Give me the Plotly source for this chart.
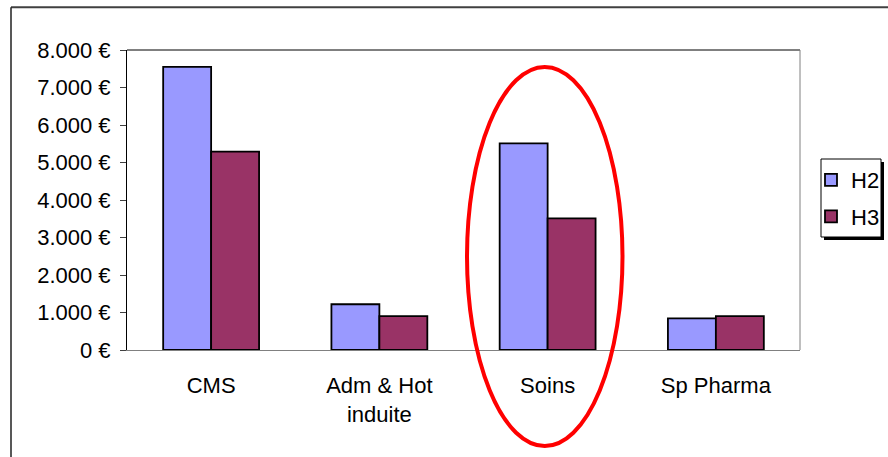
import plotly.graph_objects as go

categories = ["CMS", "Adm & Hot<br>induite", "Soins", "Sp Pharma"]
series_names = ["H2", "H3"]
h2_values = [7550, 1220, 5510, 845]
h3_values = [5290, 905, 3510, 905]
tick_vals = [0, 1000, 2000, 3000, 4000, 5000, 6000, 7000, 8000]
tick_text = ["0 €", "1.000 €", "2.000 €", "3.000 €", "4.000 €",
             "5.000 €", "6.000 €", "7.000 €", "8.000 €"]

W, H = 888, 457
L, T, R, B = 127, 50, 800, 350
PW, PH = R - L, B - T


def px(x):
    return (x - L) / PW


def py(y):
    return (B - y) / PH


FONT = "Liberation Sans, Arial, sans-serif"

fig = go.Figure()
fig.add_bar(name=series_names[0], x=categories, y=h2_values, legendgroup="g1",
            marker=dict(color="#9999FF", line=dict(color="black", width=1.8)))
fig.add_bar(name=series_names[1], x=categories, y=h3_values, legendgroup="g2",
            marker=dict(color="#993366", line=dict(color="black", width=1.8)))

shapes = [
    # outer chart frame (left and top edges visible)
    dict(type="line", xref="paper", yref="paper", x0=px(11), x1=px(895), y0=py(7.3), y1=py(7.3),
         line=dict(color="#404040", width=2), layer="above"),
    dict(type="line", xref="paper", yref="paper", x0=px(11), x1=px(11), y0=py(7.3), y1=py(470),
         line=dict(color="#202020", width=1.5), layer="above"),
    # plot area top and right borders
    dict(type="line", xref="paper", yref="paper", x0=0, x1=1, y0=1, y1=1,
         line=dict(color="black", width=1), layer="above"),
    dict(type="line", xref="paper", yref="paper", x0=1, x1=1, y0=0, y1=1,
         line=dict(color="#808080", width=1), layer="above"),
    # legend shadow and box
    dict(type="rect", xref="paper", yref="paper", x0=px(824), x1=px(884), y0=py(240), y1=py(162),
         fillcolor="black", line=dict(width=0), layer="above"),
    dict(type="rect", xref="paper", yref="paper", x0=px(821), x1=px(881), y0=py(237), y1=py(159),
         fillcolor="white", line=dict(color="black", width=1), layer="above"),
    # red ellipse highlighting "Soins"
    dict(type="circle", xref="paper", yref="paper", x0=px(467), x1=px(622.5), y0=py(446), y1=py(67),
         line=dict(color="#FF0000", width=4), layer="above"),
]

fig.update_layout(
    width=W, height=H,
    margin=dict(l=L, r=W - R, t=T, b=H - B, pad=0, autoexpand=False),
    paper_bgcolor="white", plot_bgcolor="white",
    font=dict(family=FONT, size=22, color="black"),
    barmode="group", bargap=0.43, bargroupgap=0,
    showlegend=True,
    legend=dict(x=px(811), xanchor="left", y=py(159), yanchor="top",
                bgcolor="rgba(0,0,0,0)", borderwidth=0,
                font=dict(family=FONT, size=22, color="black"),
                traceorder="grouped", tracegroupgap=5),
    xaxis=dict(showgrid=False, showline=True, linecolor="#808080", linewidth=1,
               ticks="", ticklabelstandoff=16,
               tickfont=dict(family=FONT, size=22, color="black"),
               fixedrange=True),
    yaxis=dict(range=[0, 8000], tickvals=tick_vals, ticktext=tick_text,
               showgrid=False, zeroline=False, showline=True, linecolor="black", linewidth=1,
               ticks="outside", ticklen=6, tickcolor="#404040", tickwidth=1,
               ticklabelstandoff=5,
               tickfont=dict(family=FONT, size=22, color="black")),
    shapes=shapes,
)

fig.write_html("out.html", config={"displayModeBar": False},
               post_script="document.body.style.margin='0';document.body.style.overflow='hidden';")
